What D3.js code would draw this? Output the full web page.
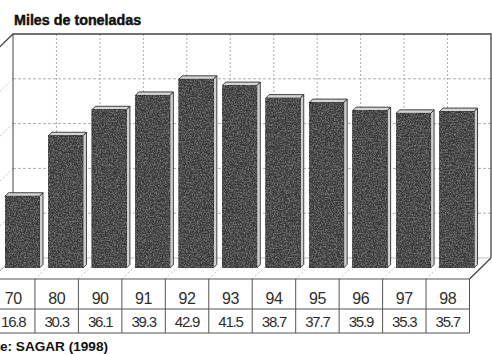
<!DOCTYPE html>
<html>
<head>
<meta charset="utf-8">
<script src="https://cdn.jsdelivr.net/npm/d3@7/dist/d3.min.js"></script>
<style>
  html, body { margin: 0; padding: 0; background: #fff; }
  svg { display: block; }
</style>
</head>
<body>
<svg id="chart" width="492" height="354"></svg>
<script>
// Producción anual (miles de toneladas)
const years  = ["70", "80", "90", "91", "92", "93", "94", "95", "96", "97", "98"];
const values = [16.8, 30.3, 36.1, 39.3, 42.9, 41.5, 38.7, 37.7, 35.9, 35.3, 35.7];
const yTicks = [0, 10, 20, 30, 40, 50];
const title  = "Miles de toneladas";
const source = "Fuente: SAGAR (1998)";

const svg = d3.select("#chart");

// Back wall of the 3-D box
const wall = { left: 13, right: 491, top: 34, bottom: 258 };
// Offset from the back wall to the front edge of the floor
const depth = { dx: -21.5, dy: 21 };

const x = d3.scaleBand().domain(years).range([wall.left, wall.right]).padding(0);
const y = d3.scaleLinear().domain([0, 50]).range([wall.bottom, wall.top]);

const ink = "#2b2b2b";
const gridColor = "#adadad";

// grain for the printed bar faces
const defs = svg.append("defs");
const f = defs.append("filter").attr("id", "grain").attr("x", 0).attr("y", 0).attr("width", 1).attr("height", 1);
f.append("feTurbulence").attr("type", "fractalNoise").attr("baseFrequency", 0.75)
  .attr("numOctaves", 2).attr("seed", 7).attr("result", "noise");
f.append("feColorMatrix").attr("in", "noise").attr("type", "matrix")
  .attr("values", "0 0 0 0 0.42  0 0 0 0 0.42  0 0 0 0 0.42  1.3 0 0 0 -0.55").attr("result", "speck");
f.append("feComposite").attr("in", "speck").attr("in2", "SourceGraphic").attr("operator", "in").attr("result", "speckIn");
const fm = f.append("feMerge");
fm.append("feMergeNode").attr("in", "SourceGraphic");
fm.append("feMergeNode").attr("in", "speckIn");

// Title
svg.append("text")
  .attr("x", 14).attr("y", 25)
  .attr("font-family", "Liberation Sans, Arial, sans-serif")
  .attr("font-size", 14.3).attr("font-weight", "bold")
  .attr("fill", "#111").attr("stroke", "#111").attr("stroke-width", 0.45)
  .text(title);

const grid = svg.append("g");

// Horizontal gridlines on the back wall and the left side wall
yTicks.filter(t => t > 0 && t < 50).forEach(t => {
  grid.append("line")
    .attr("x1", wall.left).attr("x2", wall.right)
    .attr("y1", y(t)).attr("y2", y(t))
    .attr("stroke", gridColor).attr("stroke-width", 1).attr("stroke-dasharray", "3,2");
  grid.append("line")
    .attr("x1", wall.left).attr("y1", y(t))
    .attr("x2", wall.left + depth.dx).attr("y2", y(t) + depth.dy)
    .attr("stroke", gridColor).attr("stroke-width", 0.8).attr("stroke-dasharray", "2,2");
});

// Vertical gridlines on the back wall, continuing across the floor
years.slice(1).forEach(c => {
  const xv = x(c);
  grid.append("line")
    .attr("x1", xv).attr("x2", xv)
    .attr("y1", wall.top).attr("y2", wall.bottom)
    .attr("stroke", gridColor).attr("stroke-width", 1).attr("stroke-dasharray", "2,2");
  grid.append("line")
    .attr("x1", xv).attr("y1", wall.bottom)
    .attr("x2", xv + depth.dx).attr("y2", wall.bottom + depth.dy)
    .attr("stroke", gridColor).attr("stroke-width", 0.8).attr("stroke-dasharray", "2,2");
});

// Floor back edge
grid.append("line")
  .attr("x1", wall.left).attr("x2", wall.right)
  .attr("y1", wall.bottom).attr("y2", wall.bottom)
  .attr("stroke", gridColor).attr("stroke-width", 0.8);

// Box outline
const frame = svg.append("g").attr("stroke", "#444").attr("fill", "none").attr("stroke-width", 1.3);
frame.append("path").attr("d",
  `M${wall.left + depth.dx},${wall.top + depth.dy} L${wall.left},${wall.top} L${wall.right},${wall.top} L${wall.right},${wall.bottom}`);
frame.append("line")
  .attr("x1", wall.left).attr("x2", wall.left)
  .attr("y1", wall.top).attr("y2", wall.bottom).attr("stroke-width", 1);
frame.append("line")
  .attr("x1", wall.left).attr("y1", wall.bottom)
  .attr("x2", wall.left + depth.dx).attr("y2", wall.bottom + depth.dy)
  .attr("stroke-width", 0.9).attr("stroke", "#888");
frame.append("line")
  .attr("x1", wall.right).attr("y1", wall.bottom)
  .attr("x2", wall.right + depth.dx).attr("y2", wall.bottom + depth.dy);

// Bars: placed mid-depth on the floor, each with a thin top and right side
const barShift = { dx: -8, dy: 10 };   // bar back plane relative to the wall
const barDepth = 3.5;                   // thickness of the side/top faces
const barW = 34.5;
const bars = svg.append("g").selectAll("g").data(years).join("g");

bars.each(function (c, i) {
  const g = d3.select(this);
  const v = values[i];
  const left = x(c) + barShift.dx;          // front face left
  const top = y(v) + barShift.dy + barDepth; // front face top
  const bottom = y(0) + barShift.dy;         // resting line on the floor
  const right = left + barW;

  // right side face
  g.append("path")
    .attr("d", `M${right},${top} L${right + barDepth},${top - barDepth} L${right + barDepth},${bottom - barDepth} L${right},${bottom} Z`)
    .attr("fill", "#cfcfcf").attr("stroke", ink).attr("stroke-width", 0.9);
  // top face
  g.append("path")
    .attr("d", `M${left},${top} L${left + barDepth},${top - barDepth} L${right + barDepth},${top - barDepth} L${right},${top} Z`)
    .attr("fill", "#d4d4d4").attr("stroke", ink).attr("stroke-width", 0.9);
  // front face
  g.append("rect")
    .attr("x", left).attr("y", top)
    .attr("width", barW).attr("height", bottom - top)
    .attr("fill", "#363636").attr("stroke", "#222").attr("stroke-width", 0.8)
    .attr("filter", "url(#grain)");
});

// Data table under the floor
const tableTop = wall.bottom + depth.dy;  // 279
const rowMid = 309, tableBottom = 333;
const fx = c => x(c) + depth.dx;           // column left edge on the front plane
const tableRight = wall.right + depth.dx;
const table = svg.append("g").attr("stroke", "#555").attr("stroke-width", 1);
[tableTop, rowMid, tableBottom].forEach(yy => {
  table.append("line").attr("x1", 0).attr("x2", tableRight).attr("y1", yy).attr("y2", yy);
});
years.slice(1).forEach(c => {
  table.append("line").attr("x1", fx(c)).attr("x2", fx(c)).attr("y1", tableTop).attr("y2", tableBottom);
});
table.append("line").attr("x1", tableRight).attr("x2", tableRight).attr("y1", tableTop).attr("y2", tableBottom);

const cells = svg.append("g")
  .attr("font-family", "Liberation Sans, Arial, sans-serif")
  .attr("fill", "#2e2e2e").attr("text-anchor", "middle");
cells.selectAll("text.yr").data(years).join("text")
  .attr("class", "yr")
  .attr("x", c => fx(c) + x.bandwidth() / 2)
  .attr("y", 304)
  .attr("font-size", 16).attr("letter-spacing", -0.4)
  .text(c => c);
cells.selectAll("text.val").data(values).join("text")
  .attr("class", "val")
  .attr("x", (v, i) => fx(years[i]) + x.bandwidth() / 2)
  .attr("y", 326.5)
  .attr("font-size", 15).attr("letter-spacing", -1.2)
  .text(v => v.toFixed(1));

// Source note
svg.append("text")
  .attr("x", 108).attr("y", 351)
  .attr("text-anchor", "end")
  .attr("font-family", "Liberation Sans, Arial, sans-serif")
  .attr("font-size", 13.6).attr("font-weight", "bold")
  .attr("fill", "#111")
  .text(source);
</script>
</body>
</html>
